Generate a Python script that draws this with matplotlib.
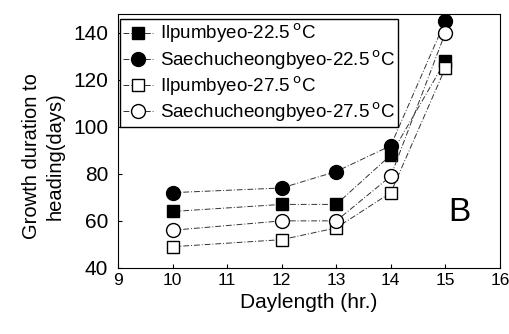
import matplotlib
matplotlib.use("Agg")
import matplotlib.pyplot as plt

plt.rcParams["font.family"] = ["Liberation Sans", "DejaVu Sans"]

daylength = [10, 12, 13, 14, 15]
ilpum_225 = [64, 67, 67, 88, 128]
saechu_225 = [72, 74, 81, 92, 145]
ilpum_275 = [49, 52, 57, 72, 125]
saechu_275 = [56, 60, 60, 79, 140]

series = [
    (ilpum_225, "s", "black", "Ilpumbyeo-22.5$\\,^{\\rm o}$C"),
    (saechu_225, "o", "black", "Saechucheongbyeo-22.5$\\,^{\\rm o}$C"),
    (ilpum_275, "s", "white", "Ilpumbyeo-27.5$\\,^{\\rm o}$C"),
    (saechu_275, "o", "white", "Saechucheongbyeo-27.5$\\,^{\\rm o}$C"),
]

fig = plt.figure(figsize=(5.09, 3.34), dpi=100)
ax = fig.add_axes([0.232, 0.198, 0.75, 0.76])

for values, marker, face, label in series:
    ax.plot(daylength, values, linestyle=(0, (6, 2, 1, 2)), linewidth=0.7, color="#333333",
            marker=marker, markersize=10 if marker == "o" else 8.5,
            markerfacecolor=face, markeredgecolor="black", markeredgewidth=1.0,
            label=label)

ax.set_xlim(9, 16)
ax.set_ylim(40, 148)
ax.set_xticks(range(9, 17))
ax.set_yticks(range(40, 141, 20))
ax.tick_params(direction="in", length=3)
ax.tick_params(axis="x", labelsize=12.5, pad=4)
ax.tick_params(axis="y", labelsize=15, pad=7)
ax.set_xlabel("Daylength (hr.)", fontsize=15, labelpad=3)
ax.set_ylabel("Growth duration to\nheading(days)", fontsize=14.5, linespacing=1.3)
ax.yaxis.set_label_coords(-0.14, 0.44)
ax.text(15.25, 63.5, "B", fontsize=24, ha="center", va="center")

leg = ax.legend(loc="upper left", bbox_to_anchor=(0.005, 0.98), fontsize=13.5,
                frameon=True, fancybox=False, edgecolor="black", framealpha=1,
                handlelength=1.6, handletextpad=0.4, borderpad=0.15,
                labelspacing=0.15, borderaxespad=0.0)
leg.get_frame().set_linewidth(1.0)

fig.savefig("out.png", dpi=100)
